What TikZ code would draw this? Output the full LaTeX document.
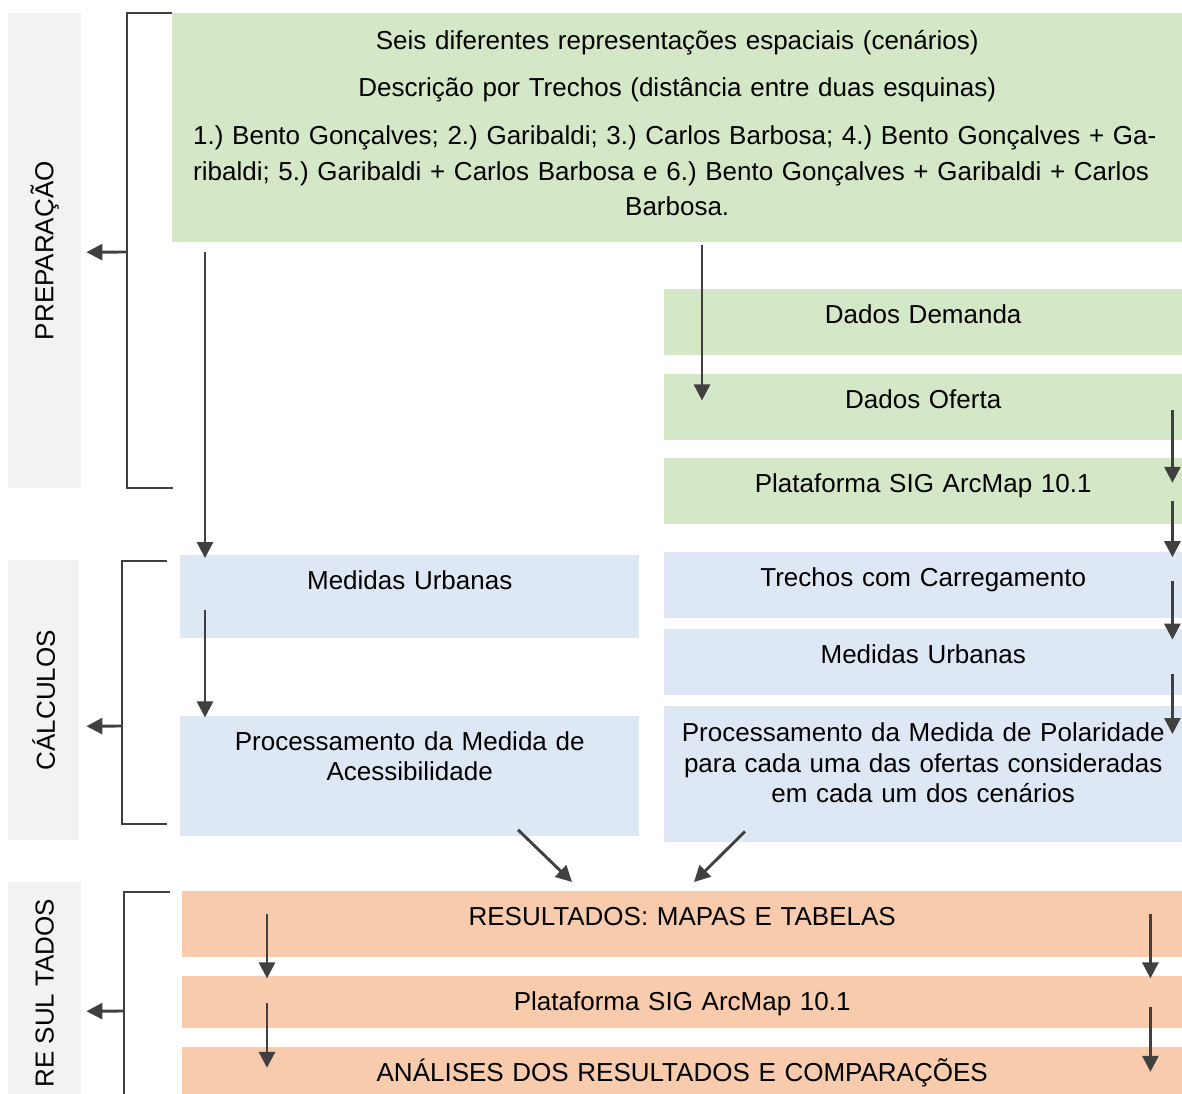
\documentclass[tikz,border=0pt]{standalone}
\usepackage{fontspec}
\setmainfont{Liberation Sans}
\usetikzlibrary{arrows.meta,positioning}
\definecolor{prepgreen}{RGB}{212,231,198}
\definecolor{calcblue}{RGB}{222,232,245}
\definecolor{resorange}{RGB}{247,203,172}
\definecolor{sidegray}{RGB}{242,242,242}
\definecolor{arrowgray}{RGB}{64,64,64}
\newcommand{\fsz}{\fontsize{26}{30.5}\selectfont}
\frenchspacing

\begin{document}
\begin{tikzpicture}[
    x=1pt, y=-1pt,
    box/.style={fill=#1, inner sep=0pt, align=center, font=\fsz, anchor=north west},
    rbox/.style={box=#1, text width=518pt, text height=34.5pt, text depth=31.5pt},
    panel/.style={fill=sidegray, inner sep=0pt, font=\fsz, anchor=north west},
    arr/.style={-{Triangle[length=16pt,width=16pt]}, line width=2.9pt, draw=arrowgray},
    brk/.style={line width=2pt, draw=arrowgray}
]
\clip (0,0) rectangle (1182,1093);

\node[panel, minimum width=73pt, minimum height=475pt] (prep) at (8,13) {\rotatebox{90}{PREPARAÇÃO}};
\node[panel, minimum width=71pt, minimum height=280pt] (calc) at (8,560) {\rotatebox{90}{CÁLCULOS}};
\node[panel, minimum width=73pt, minimum height=222pt] (resu) at (8,882) {\rotatebox{90}{RE SUL TADOS}};

\node[box=prepgreen, text width=968pt, inner xsep=21pt, text height=36.5pt, text depth=192.5pt] (cen) at (172,13)
  {Seis diferentes representações espaciais (cenários)\\[16.5pt]
   Descrição por Trechos (distância entre duas esquinas)\\[17.5pt]
   \makebox[\linewidth][s]{1.) Bento Gonçalves; 2.) Garibaldi; 3.) Carlos Barbosa; 4.) Bento Gonçalves + Ga-}\\[5pt]
   \makebox[\linewidth][s]{ribaldi; 5.) Garibaldi + Carlos Barbosa e 6.) Bento Gonçalves + Garibaldi + Carlos}\\[5pt]
   Barbosa.};
\node[rbox=prepgreen] (dem) at (664,289) {Dados Demanda};
\node[rbox=prepgreen, below=18pt of dem] (ofe) {Dados Oferta};
\node[rbox=prepgreen, below=18pt of ofe] (sig) {Plataforma SIG ArcMap 10.1};

\node[rbox=calcblue, below=28pt of sig] (tre) {Trechos com Carregamento};
\node[rbox=calcblue, below=10pt of tre] (mur) {Medidas Urbanas};
\node[rbox=calcblue, below=11pt of mur, text height=35.5pt, text depth=100.5pt] (pol)
  {Processamento da Medida de Polaridade\\ para cada uma das ofertas consideradas\\ em cada um dos cenários};
\node[box=calcblue, text width=459pt, text height=34.5pt, text depth=48.5pt] (mul) at (180,555) {Medidas Urbanas};
\node[box=calcblue, text width=459pt, text height=34.5pt, text depth=85.5pt, below=77pt of mul] (ace)
  {Processamento da Medida de\\ Acessibilidade};

\node[box=resorange, text width=1000pt, text height=34.5pt, text depth=31.5pt] (res) at (182,891) {RESULTADOS: MAPAS E TABELAS};
\node[box=resorange, text width=1000pt, text height=34.5pt, text depth=17.5pt, below=18pt of res] (sig2) {Plataforma SIG ArcMap 10.1};
\node[box=resorange, text width=1000pt, text height=34.5pt, text depth=20pt, below=19pt of sig2] (ana) {ANÁLISES DOS RESULTADOS E COMPARAÇÕES};

\draw[brk] (cen.north west) -- (127,13) -- (127,488) -- (173,488);
\draw[brk] (167,561) -- (122,561) -- (122,824) -- (167,824);
\draw[brk] (170,892) -- (124,892) -- (124,1100);
\coordinate (b1) at (127,252);
\coordinate (b2) at (122,726);
\coordinate (b3) at (124,1011);
\draw[arr] (b1) -- ([xshift=5pt,yshift=-1.5pt]prep.east);
\draw[arr] (b2) -- ([xshift=7pt,yshift=-26pt]calc.east);
\draw[arr] (b3) -- ([xshift=5pt,yshift=-18pt]resu.east);

\draw[arr] ([xshift=33pt,yshift=-10pt]cen.south west) -- ([xshift=25pt,yshift=-3pt]mul.north west);
\draw[arr] ([xshift=530pt,yshift=-3pt]cen.south west) -- ([xshift=38pt,yshift=-27pt]ofe.north west);
\draw[arr] ([xshift=-10pt,yshift=-37pt]ofe.north east) -- ([xshift=-10pt,yshift=-25pt]sig.north east);
\draw[arr] ([xshift=-10pt,yshift=-43pt]sig.north east) -- ([xshift=-10pt,yshift=-5pt]tre.north east);
\draw[arr] ([xshift=-10pt,yshift=-29pt]tre.north east) -- ([xshift=-10pt,yshift=-11pt]mur.north east);
\draw[arr] ([xshift=-10pt,yshift=-45pt]mur.north east) -- ([xshift=-10pt,yshift=-28pt]pol.north east);
\draw[arr] ([xshift=25pt,yshift=-55pt]mul.north west) -- ([xshift=25pt,yshift=-2pt]ace.north west);
\draw[arr] ([xshift=338pt,yshift=6pt]ace.south west) -- ([xshift=390pt,yshift=9pt]res.north west);
\draw[arr] ([xshift=81pt,yshift=11pt]pol.south west) -- ([xshift=512pt,yshift=9pt]res.north west);

\draw[arr] ([xshift=85pt,yshift=-23pt]res.north west) -- ([xshift=85pt,yshift=-3pt]sig2.north west);
\draw[arr] ([xshift=85pt,yshift=-28pt]sig2.north west) -- ([xshift=85pt,yshift=-21pt]ana.north west);
\draw[arr] ([xshift=-32pt,yshift=-23pt]res.north east) -- ([xshift=-32pt,yshift=-3pt]sig2.north east);
\draw[arr] ([xshift=-32pt,yshift=-32pt]sig2.north east) -- ([xshift=-32pt,yshift=-25pt]ana.north east);
\end{tikzpicture}
\end{document}
